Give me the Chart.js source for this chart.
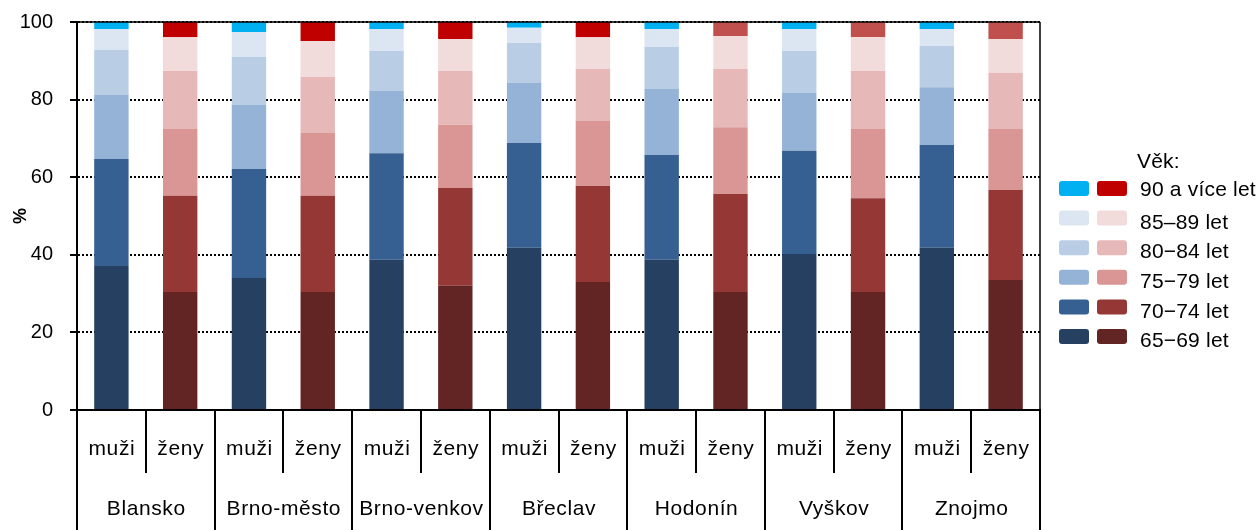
<!DOCTYPE html>
<html>
<head>
<meta charset="utf-8">
<script src="https://cdn.jsdelivr.net/npm/chart.js@4/dist/chart.umd.min.js"></script>
<style>
  html, body { margin: 0; padding: 0; background: #fff; }
  #wrap { width: 1258px; height: 530px; }
</style>
</head>
<body>
<div id="wrap"><canvas id="c" width="1258" height="530"></canvas></div>
<script>
// ---- data ----
const districts = ['Blansko', 'Brno-město', 'Brno-venkov', 'Břeclav', 'Hodonín', 'Vyškov', 'Znojmo'];
const sexes = ['muži', 'ženy'];
const ageGroups = ['65−69 let', '70−74 let', '75−79 let', '80−84 let', '85–89 let', '90 a více let'];
const yTicks = [0, 20, 40, 60, 80, 100];
// bar order: Blansko muži, Blansko ženy, Brno-město muži, ...
const age65_69 = [37.1, 30.4, 34.0, 30.4, 38.7, 32.0, 41.8, 33.0, 38.7, 30.4, 40.2, 30.4, 41.8, 33.5];
const age70_74 = [27.6, 24.8, 28.1, 24.8, 27.5, 25.2, 27.0, 24.7, 27.0, 25.3, 26.6, 24.2, 26.5, 23.2];
const age75_79 = [16.5, 17.2, 16.5, 16.2, 16.0, 16.3, 15.5, 16.8, 17.0, 17.2, 14.9, 17.8, 14.9, 15.7];
const age80_84 = [11.6, 15.0, 12.4, 14.4, 10.3, 13.9, 10.3, 13.4, 10.9, 15.0, 10.8, 15.0, 10.6, 14.5];
const age85_89 = [5.4, 8.7, 6.4, 9.3, 5.7, 8.2, 3.9, 8.2, 4.6, 8.5, 5.7, 8.7, 4.4, 8.7];
const age90plus = [1.8, 3.9, 2.6, 4.9, 1.8, 4.4, 1.5, 3.9, 1.8, 3.6, 1.8, 3.9, 1.8, 4.4];

// ---- styles ----
const FONT = "'Liberation Sans', Arial, sans-serif";
const maleColors = ['#264062', '#366092', '#95B3D7', '#B9CDE5', '#DCE6F2', '#00B0F0'];
const femaleColors = ['#632523', '#953735', '#D99694', '#E6B9B8', '#F2DCDB', '#C00000'];
const female90ByDistrict = ['#C00000', '#C00000', '#C00000', '#C00000', '#C0504D', '#C0504D', '#C0504D'];

const labels = [];
districts.forEach(d => sexes.forEach(s => labels.push([d, s])));
const series = [age65_69, age70_74, age75_79, age80_84, age85_89, age90plus];

const datasets = series.map((vals, k) => ({
  label: ageGroups[k],
  data: vals,
  backgroundColor: labels.map((l, i) => {
    if (i % 2 === 0) return maleColors[k];
    if (k === 5) return female90ByDistrict[Math.floor(i / 2)];
    return femaleColors[k];
  }),
  borderWidth: 0,
  barPercentage: 0.5,
  categoryPercentage: 1.0
}));

const decorPlugin = {
  id: 'decor',
  afterDraw(chart) {
    const ctx = chart.ctx;
    const xs = chart.scales.x;
    const a = chart.chartArea;
    const n = labels.length;
    const H = chart.height;
    ctx.save();
    // frame top & right
    ctx.strokeStyle = '#000';
    ctx.lineWidth = 1.5;
    ctx.beginPath();
    ctx.moveTo(a.left, a.top); ctx.lineTo(a.right, a.top);
    ctx.moveTo(a.right, a.top); ctx.lineTo(a.right, a.bottom);
    ctx.stroke();
    // separators
    ctx.lineWidth = 2;
    const bounds = [];
    for (let i = 0; i <= n; i++) {
      let bx;
      if (i === 0) bx = a.left;
      else if (i === n) bx = a.right;
      else bx = (xs.getPixelForValue(i - 1) + xs.getPixelForValue(i)) / 2;
      bounds.push(bx);
      ctx.beginPath();
      ctx.moveTo(Math.round(bx), a.bottom);
      ctx.lineTo(Math.round(bx), i % 2 === 0 ? H : a.bottom + 63);
      ctx.stroke();
    }
    // labels
    ctx.fillStyle = '#000';
    ctx.textAlign = 'center';
    ctx.textBaseline = 'middle';
    ctx.font = '21px ' + FONT;
    ctx.letterSpacing = '0.6px';
    for (let i = 0; i < n; i++) {
      ctx.fillText(labels[i][1], (bounds[i] + bounds[i + 1]) / 2 + 0.5, a.bottom + 39);
    }
    for (let d = 0; d < districts.length; d++) {
      ctx.fillText(districts[d], (bounds[2 * d] + bounds[2 * d + 2]) / 2 + 0.5, a.bottom + 99);
    }
    // legend
    ctx.letterSpacing = '0.2px';
    const lx = 1059, ly0 = 181, rowH = 29.6;
    ctx.textAlign = 'left';
    ctx.fillText('Věk:', 1137, 162);
    for (let r = 0; r < 6; r++) {
      const k = 5 - r;
      const y = ly0 + r * rowH;
      ctx.fillStyle = maleColors[k];
      ctx.beginPath(); ctx.roundRect(lx, y, 30, 15, 3); ctx.fill();
      ctx.fillStyle = femaleColors[k];
      ctx.beginPath(); ctx.roundRect(lx + 38, y, 30, 15, 3); ctx.fill();
      ctx.fillStyle = '#000';
      ctx.fillText(ageGroups[k], 1140, y + 7.5 + (r === 0 ? 2 : 5));
    }
    ctx.restore();
  }
};

new Chart(document.getElementById('c'), {
  type: 'bar',
  data: { labels: labels, datasets: datasets },
  options: {
    responsive: false,
    devicePixelRatio: 1,
    animation: false,
    layout: { padding: { left: 0, right: 218, top: 22, bottom: 0 } },
    plugins: { legend: { display: false }, tooltip: { enabled: false } },
    scales: {
      x: {
        stacked: true,
        offset: true,
        grid: { display: false },
        ticks: { display: false },
        border: { display: true, color: '#000', width: 2 },
        afterFit(s) { s.height = 120; s.paddingLeft = 0; s.paddingRight = 0; }
      },
      y: {
        stacked: true,
        min: 0,
        max: 100,
        afterBuildTicks(s) { s.ticks = yTicks.map(v => ({ value: v })); },
        ticks: { color: '#000', font: { family: FONT, size: 20 }, padding: 17 },
        grid: {
          color: c => (c.tick && c.tick.value === 0) ? 'rgba(0,0,0,0)' : '#000',
          lineWidth: 2,
          drawTicks: true,
          tickLength: 7,
          tickWidth: 2,
          tickColor: '#000'
        },
        border: { display: true, color: '#000', width: 2, dash: [2, 2] },
        title: { display: true, text: '%', color: '#000', font: { family: FONT, size: 18, weight: 'bold' }, padding: { top: 10, bottom: 0 } },
        afterFit(s) { s.width = 77; s.paddingTop = 0; s.paddingBottom = 0; }
      }
    }
  },
  plugins: [decorPlugin]
});
</script>
</body>
</html>
